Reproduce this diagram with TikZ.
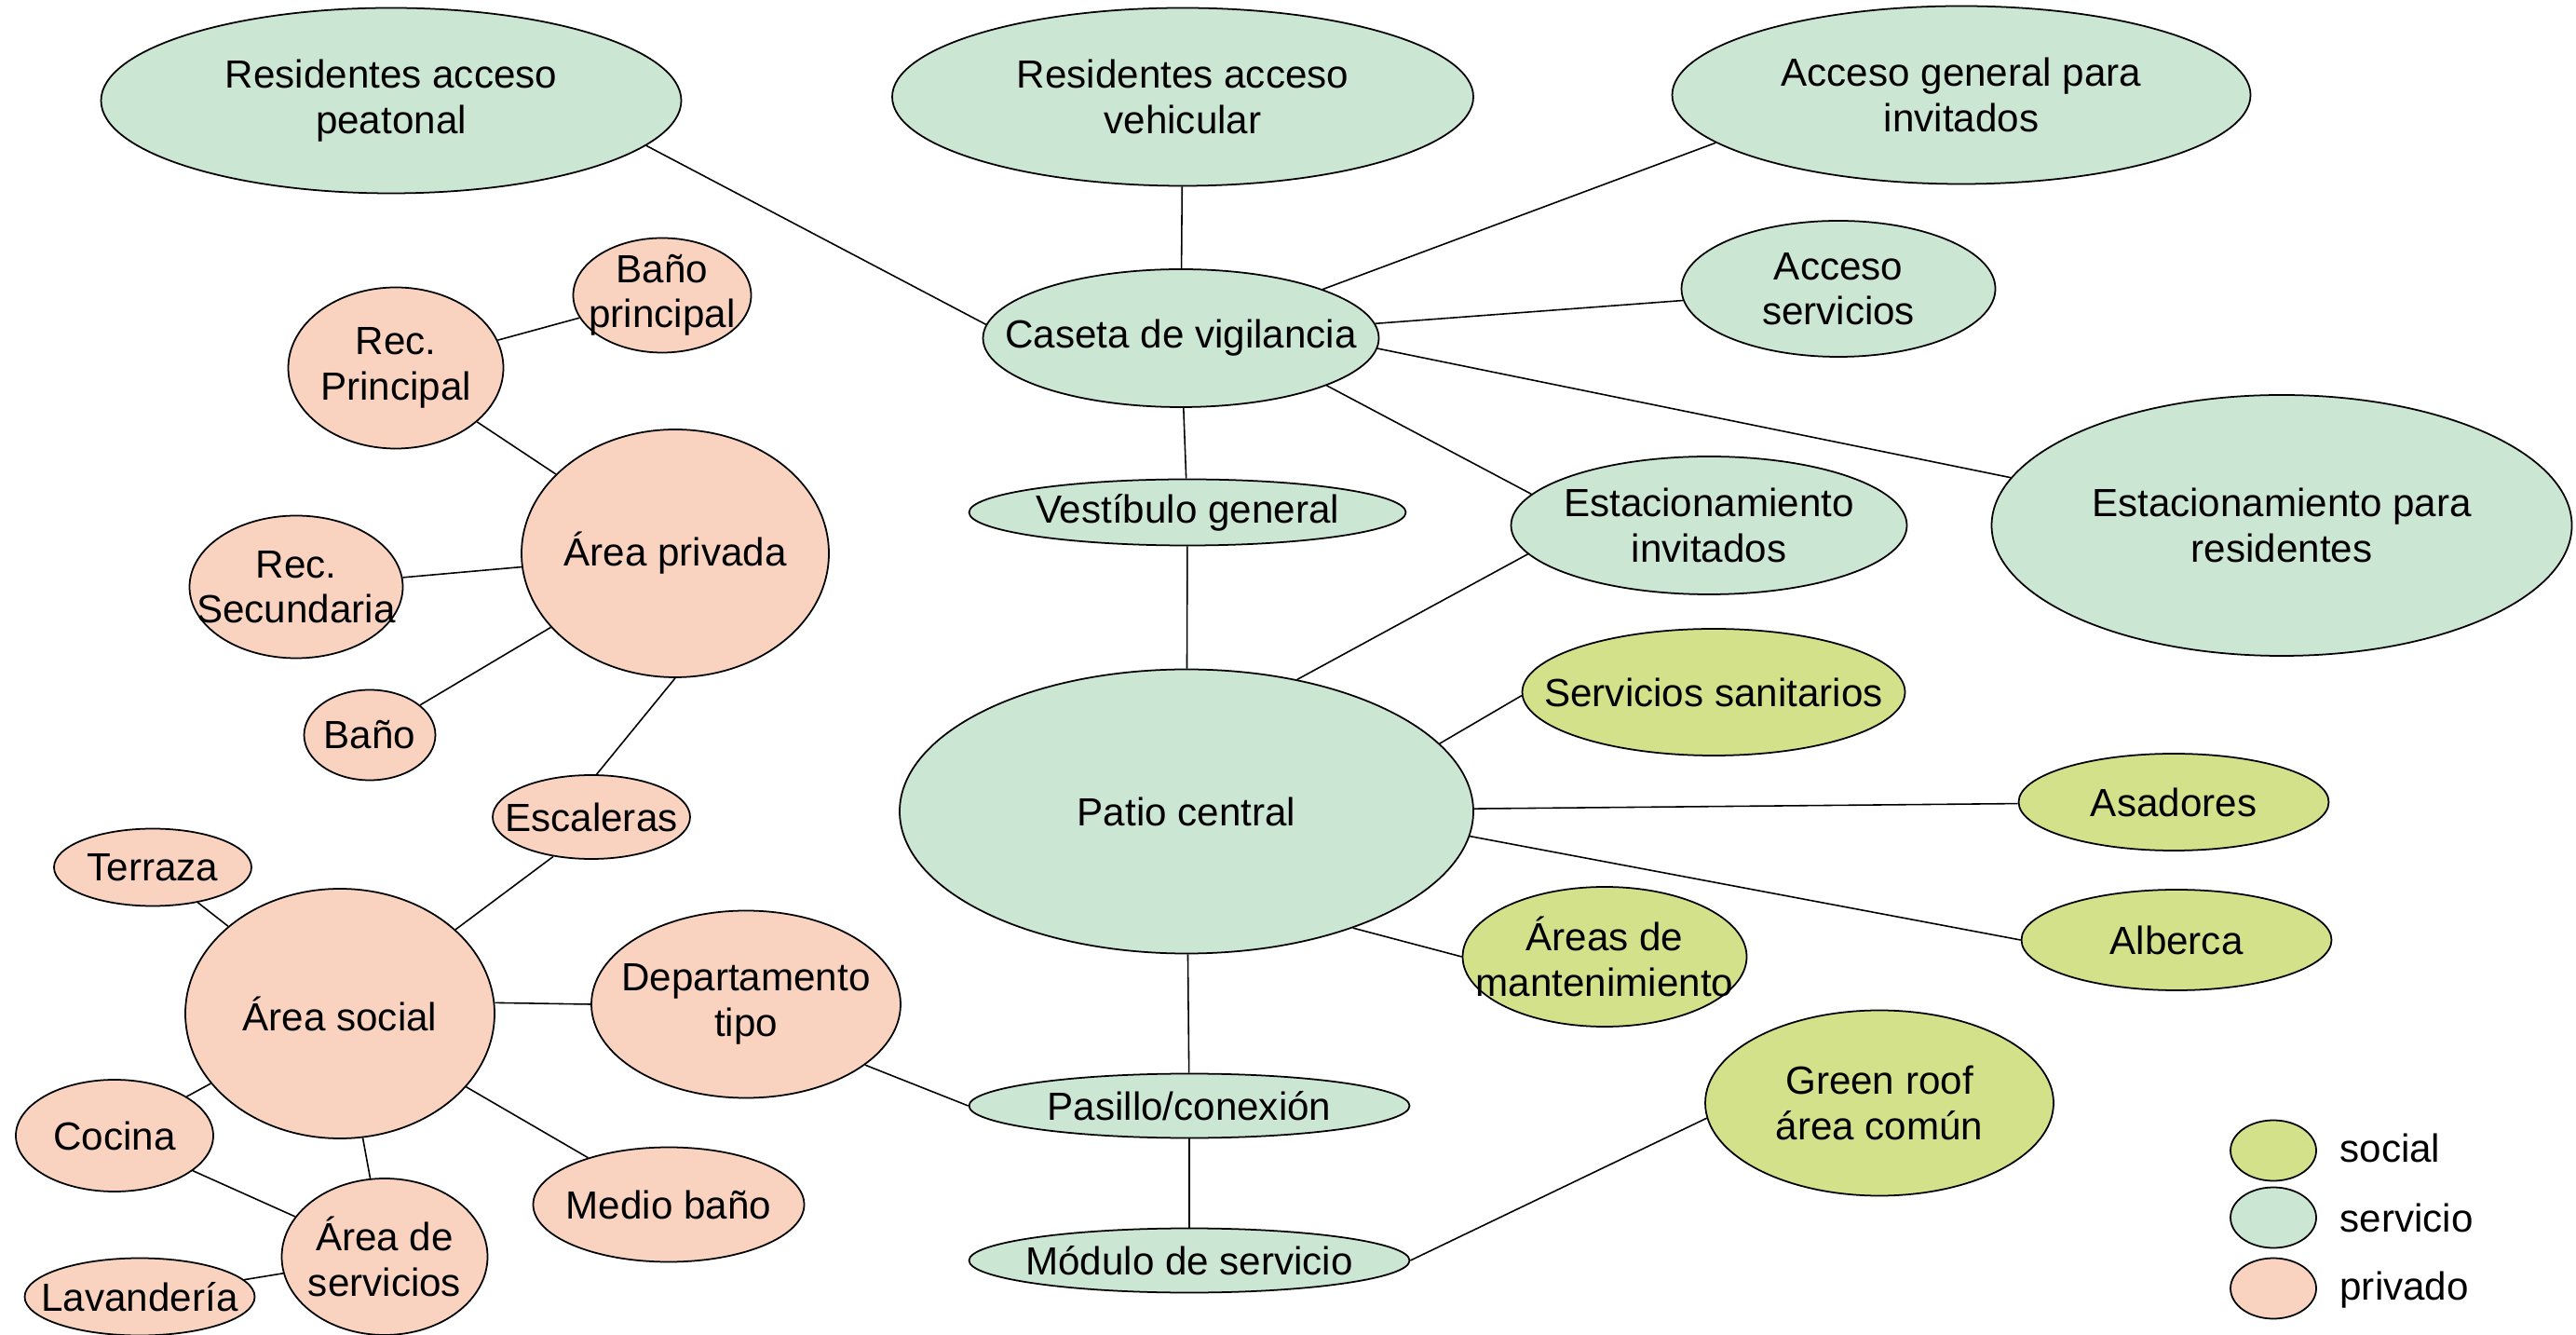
\documentclass[tikz,border=0pt]{standalone}
\usepackage{fontspec}
\setmainfont{Liberation Sans}
\usetikzlibrary{shapes.geometric}
\definecolor{servicio}{RGB}{204,230,212}
\definecolor{social}{RGB}{212,225,139}
\definecolor{privado}{RGB}{250,211,192}

\begin{document}
\begin{tikzpicture}[
    bub/.style={draw,ellipse,inner sep=-1cm,align=center,line width=0.5pt,font=\fontsize{12}{13.8}\selectfont},
    serv/.style={bub,fill=servicio},
    soc/.style={bub,fill=social},
    priv/.style={bub,fill=privado},
    every path/.style={line width=0.45pt}]
  \useasboundingbox (0,0) rectangle (27.66,-14.33);
  % Servicio
  \node[serv,minimum width=6.23cm,minimum height=1.99cm] (peatonal) at (4.20,-1.08) {Residentes acceso\\peatonal};
  \node[serv,minimum width=6.24cm,minimum height=1.91cm] (vehicular) at (12.70,-1.04) {Residentes acceso\\vehicular};
  \node[serv,minimum width=6.21cm,minimum height=1.91cm] (invitados) at (21.06,-1.02) {Acceso general para\\invitados};
  \node[serv,minimum width=3.37cm,minimum height=1.46cm] (accserv) at (19.74,-3.10) {Acceso\\servicios};
  \node[serv,minimum width=4.25cm,minimum height=1.48cm] (caseta) at (12.68,-3.63) {Caseta de vigilancia};
  \node[serv,minimum width=4.69cm,minimum height=0.71cm] (vestibulo) at (12.75,-5.50) {Vestíbulo general};
  \node[serv,minimum width=4.25cm,minimum height=1.48cm] (estinv) at (18.35,-5.64) {Estacionamiento\\invitados};
  \node[serv,minimum width=6.23cm,minimum height=2.80cm] (estres) at (24.50,-5.64) {Estacionamiento para\\residentes};
  \node[serv,minimum width=6.16cm,minimum height=3.05cm] (patio) at (12.74,-8.71) {Patio central};
  \node[serv,minimum width=4.73cm,minimum height=0.69cm] (pasillo) at (12.77,-11.87) {Pasillo/conexión};
  \node[serv,minimum width=4.73cm,minimum height=0.69cm] (modulo) at (12.77,-13.53) {Módulo de servicio};

  % Social
  \node[soc,minimum width=4.11cm,minimum height=1.36cm] (sanit) at (18.40,-7.43) {Servicios sanitarios};
  \node[soc,minimum width=3.33cm,minimum height=1.04cm] (asadores) at (23.34,-8.61) {Asadores};
  \node[soc,minimum width=3.33cm,minimum height=1.08cm] (alberca) at (23.37,-10.09) {Alberca};
  \node[soc,minimum width=3.05cm,minimum height=1.50cm] (mant) at (17.23,-10.27) {Áreas de\\mantenimiento};
  \node[soc,minimum width=3.74cm,minimum height=1.99cm] (roof) at (20.18,-11.84) {Green roof\\área común};

  % Privado
  \node[priv,minimum width=3.32cm,minimum height=2.01cm] (depto) at (8.01,-10.78) {Departamento\\tipo};
  \node[priv,minimum width=3.32cm,minimum height=2.68cm] (social) at (3.65,-10.88) {Área social};
  \node[priv,minimum width=2.12cm,minimum height=0.90cm] (escaleras) at (6.35,-8.77) {Escaleras};
  \node[priv,minimum width=2.12cm,minimum height=0.83cm] (terraza) at (1.64,-9.31) {Terraza};
  \node[priv,minimum width=2.12cm,minimum height=1.20cm] (cocina) at (1.23,-12.19) {Cocina};
  \node[priv,minimum width=2.21cm,minimum height=1.68cm] (areaserv) at (4.13,-13.49) {Área de\\servicios};
  \node[priv,minimum width=2.47cm,minimum height=0.83cm] (lavanderia) at (1.50,-13.92) {Lavandería};
  \node[priv,minimum width=2.91cm,minimum height=1.23cm] (mediobano) at (7.18,-12.93) {Medio baño};
  \node[priv,minimum width=3.30cm,minimum height=2.66cm] (privada) at (7.25,-5.94) {Área privada};
  \node[priv,minimum width=2.31cm,minimum height=1.73cm] (recppal) at (4.25,-3.95) {Rec.\\Principal};
  \node[priv,minimum width=1.91cm,minimum height=1.23cm] (banoppal) at (7.11,-3.17) {Baño\\principal};
  \node[priv,minimum width=2.29cm,minimum height=1.53cm] (recsec) at (3.18,-6.30) {Rec.\\Secundaria};
  \node[priv,minimum width=1.41cm,minimum height=0.97cm] (bano) at (3.97,-7.89) {Baño};

  % Legend
  \node[soc,minimum width=0.92cm,minimum height=0.65cm] (legsoc) at (24.41,-12.35) {};
  \node[serv,minimum width=0.92cm,minimum height=0.65cm] (legserv) at (24.41,-13.07) {};
  \node[priv,minimum width=0.92cm,minimum height=0.65cm] (legpriv) at (24.41,-13.83) {};
  \node[anchor=west,font=\fontsize{12}{13.8}\selectfont] (txtsoc) at (25.0,-12.32) {social};
  \node[anchor=west,font=\fontsize{12}{13.8}\selectfont] (txtserv) at (25.0,-13.07) {servicio};
  \node[anchor=west,font=\fontsize{12}{13.8}\selectfont] (txtpriv) at (25.0,-13.85) {privado};

  % Connections
  \draw (peatonal.-10)--(caseta.176);
  \draw (vehicular)--(caseta);
  \draw (invitados.-169)--(caseta.19);
  \draw (accserv)--(caseta);
  \draw (estres.170)--(caseta.-3);
  \draw (estinv.170)--(caseta.-18);
  \draw (caseta)--(vestibulo);
  \draw (vestibulo)--(patio);
  \draw (estinv.189)--(patio.50);
  \draw (sanit.181)--(patio.15);
  \draw (asadores)--(patio);
  \draw (alberca.180)--(patio.-5);
  \draw (mant.180)--(patio.-35);
  \draw (patio)--(pasillo);
  \draw (pasillo)--(modulo);
  \draw (modulo.0)--(roof.185);
  \draw (pasillo.180)--(depto.-27);
  \draw (depto.180)--(social.4);
  \draw (social.36)--(escaleras.226);
  \draw (escaleras.83)--(privada.-90);
  \draw (social)--(terraza);
  \draw (social)--(cocina);
  \draw (social)--(areaserv);
  \draw (social)--(mediobano);
  \draw (areaserv)--(cocina);
  \draw (areaserv)--(lavanderia);
  \draw (privada)--(recppal);
  \draw (recppal)--(banoppal);
  \draw (privada)--(recsec);
  \draw (privada)--(bano);
\end{tikzpicture}
\end{document}
